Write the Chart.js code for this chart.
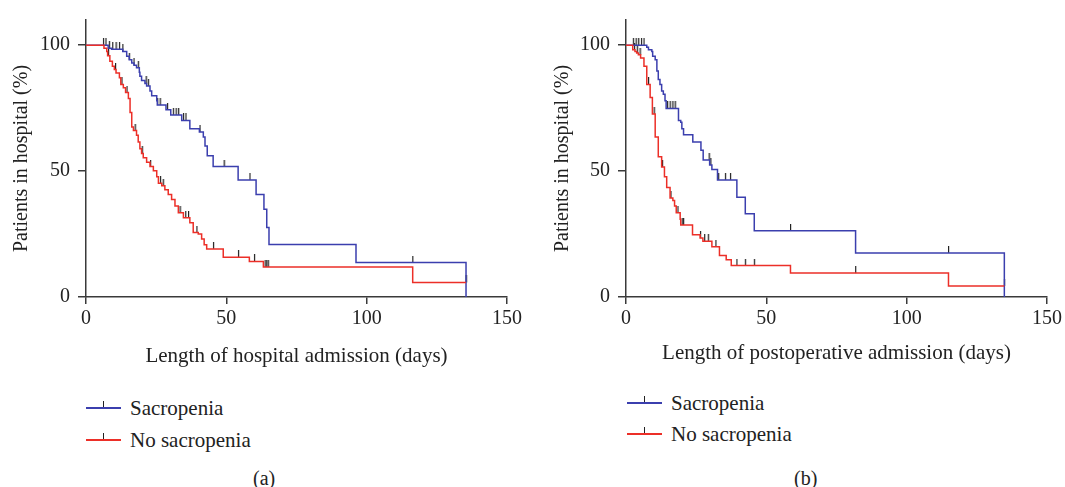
<!DOCTYPE html>
<html>
<head>
<meta charset="utf-8">
<script src="https://cdn.jsdelivr.net/npm/chart.js@4.4.1/dist/chart.umd.min.js"></script>
<style>
  body { margin: 0; background: #fff; width: 1065px; height: 487px; position: relative; overflow: hidden;
         font-family: 'Liberation Serif', 'DejaVu Serif', serif; color: #222; }
  .panel { position: absolute; top: 0; }
  .lg { position: absolute; font-size: 21px; line-height: 24px; white-space: nowrap; }
  .lg i { position: absolute; left: -44px; top: 11px; width: 35px; height: 2px; }
  .lg i:after { content: ''; position: absolute; left: 17px; top: -6px; width: 1px; height: 6px; background: #222; }
  .cap { position: absolute; font-size: 20px; line-height: 24px; }
</style>
</head>
<body>
<div class="panel" style="left:0;width:530px;height:369px"><canvas id="chartA"></canvas></div>
<div class="panel" style="left:530px;width:535px;height:366px"><canvas id="chartB"></canvas></div>

<div class="lg" style="left:130px;top:396px"><i style="background:#3b3fae"></i>Sacropenia</div>
<div class="lg" style="left:130px;top:428px"><i style="background:#ec2f28"></i>No sacropenia</div>
<div class="cap" style="left:253px;top:466px">(a)</div>

<div class="lg" style="left:671px;top:391px"><i style="background:#3b3fae"></i>Sacropenia</div>
<div class="lg" style="left:671px;top:422px"><i style="background:#ec2f28"></i>No sacropenia</div>
<div class="cap" style="left:794px;top:466px">(b)</div>

<script>
const blue = '#3b3fae';
const red = '#ec2f28';
const xTicks = [0, 50, 100, 150];
const yTicks = [0, 50, 100];

// (a) length of hospital admission
const hospSarcTime = [0, 7.9, 9.1, 13.1, 14.5, 15.4, 16.3, 17.1, 18.0, 19.0, 19.2, 19.8, 21.0, 21.6, 22.8, 23.4, 25.2, 25.4,
  28.5, 30.2, 34.1, 37.0, 40.4, 41.8, 42.4, 43.2, 45.3, 54.2, 60.6, 63.4, 64.4, 65.2, 96.2, 135.4];
const hospSarcPct = [100, 98.8, 98.4, 97.5, 95.6, 94.2, 92.9, 92.0, 91.0, 89.3, 87.7, 86.0, 84.8, 83.8, 81.8, 79.9, 77.9, 76.2,
  74.4, 72.3, 70.1, 66.8, 65.5, 63.5, 60.0, 56.1, 51.8, 46.5, 40.7, 34.8, 27.6, 20.8, 13.7, 0];
const hospSarcCens = [6.2, 7.1, 8.3, 9.5, 10.7, 11.9, 13.1, 15.4, 17.1, 18.6, 21.4, 22.2, 25.5, 26.4, 29.0, 31.1, 32.1, 33.0,
  34.7, 35.6, 40.6, 49.2, 58.4, 116.4];

const hospNoTime = [0, 6.4, 7.4, 7.7, 8.5, 9.4, 10.1, 10.7, 11.9, 12.4, 13.3, 14.1, 15.1, 15.7, 16.3, 16.9, 18.0, 18.6, 19.2,
  19.8, 20.4, 21.6, 22.8, 24.0, 25.2, 25.8, 27.0, 28.1, 29.3, 30.5, 31.7, 32.9, 34.7, 37.0, 38.2, 40.0, 41.2, 42.1, 43.0,
  48.9, 58.2, 63.2, 116.4];
const hospNoPct = [100, 98.8, 97.5, 95.8, 93.6, 91.6, 90.3, 89.0, 87.1, 84.4, 83.1, 81.2, 78.8, 73.3, 67.5, 66.1, 64.2, 61.6, 58.9,
  57.0, 55.3, 53.5, 51.8, 50.1, 47.8, 45.2, 44.2, 42.6, 40.7, 38.7, 36.1, 33.5, 31.5, 29.5, 25.6, 25.0, 23.0, 20.7, 19.1,
  15.8, 14.1, 11.9, 5.8];
const hospNoCens = [8.0, 10.5, 12.8, 14.6, 17.5, 20.0, 23.0, 26.5, 27.5, 33.5, 35.5, 36.5, 39.5, 45.4, 54.3, 60.0,
  63.8, 64.4, 64.9, 135.4];

// (b) length of postoperative admission
const postSarcTime = [0, 7.4, 8.0, 9.2, 9.5, 10.4, 11.0, 11.5, 12.1, 12.7, 13.3, 13.9, 14.3, 18.7, 19.5, 19.9, 20.5, 23.8,
  26.7, 27.5, 29.8, 30.6, 32.6, 39.5, 42.5, 45.7, 81.8, 134.8];
const postSarcPct = [100, 99.2, 98.2, 97.5, 95.6, 94.2, 89.7, 86.4, 84.4, 81.8, 80.5, 77.9, 74.9, 70.1, 69.4, 66.8, 64.4, 61.6,
  58.3, 54.4, 52.4, 50.6, 46.5, 39.6, 33.1, 26.3, 17.5, 0];
const postSarcCens = [2.6, 3.6, 4.5, 5.5, 6.4, 14.8, 15.7, 16.7, 17.5, 29.6, 30.2, 33.0, 35.4, 37.2, 58.6, 114.9];

const postNoTime = [0, 2.4, 3.2, 3.8, 4.4, 5.2, 6.4, 7.4, 8.6, 9.4, 10.4, 11.5, 12.7, 13.7, 14.5, 15.7, 16.7, 17.3, 17.9,
  19.3, 19.5, 23.7, 26.4, 27.4, 30.6, 33.3, 35.7, 37.5, 58.6, 114.9];
const postNoPct = [100, 98.2, 97.5, 96.9, 96.2, 94.9, 91.6, 84.4, 79.2, 72.7, 63.5, 55.7, 51.6, 47.8, 43.5, 39.3, 38.3, 36.1, 33.5,
  30.9, 28.6, 24.7, 23.4, 22.1, 20.0, 16.5, 14.8, 12.5, 9.5, 4.4];
const postNoCens = [3.0, 4.0, 5.0, 8.0, 10.0, 13.0, 16.0, 18.5, 20.0, 20.5, 26.5, 28.0, 29.3, 32.0, 39.5, 42.5, 45.7,
  81.8, 134.8];

const serif = "'Liberation Serif', 'DejaVu Serif', serif";
const ink = '#222';
const axisCol = '#3a3a3a';

// little upward censor tick used as point style
const censMark = document.createElement('canvas');
censMark.width = 3;
censMark.height = 14;
const g = censMark.getContext('2d');
g.fillStyle = ink;
g.fillRect(1, 0, 1.2, 7);

function kmPoints(time, pct, cens) {
  const pts = time.map((t, i) => ({ x: t, y: pct[i] }));
  const end = Math.max(time[time.length - 1], ...cens);
  if (end > time[time.length - 1]) pts.push({ x: end, y: pct[pct.length - 1] });
  return pts;
}

function pctAt(time, pct, t) {
  let v = pct[0];
  for (let i = 0; i < time.length; i++) {
    if (time[i] <= t) v = pct[i];
  }
  return v;
}

function curve(time, pct, cens, color) {
  return {
    data: kmPoints(time, pct, cens),
    borderColor: color,
    borderWidth: 1.5,
    stepped: true,
    pointRadius: 0,
    fill: false
  };
}

function censors(time, pct, cens) {
  return {
    data: cens.map(t => ({ x: t, y: pctAt(time, pct, t) })),
    showLine: false,
    pointStyle: censMark,
    pointRadius: 4
  };
}

function makeChart(id, xTitle, sarc, noSarc, box) {
  const ctx = document.getElementById(id).getContext('2d');
  return new Chart(ctx, {
    type: 'line',
    data: {
      datasets: [
        curve(noSarc[0], noSarc[1], noSarc[2], red),
        curve(sarc[0], sarc[1], sarc[2], blue),
        censors(noSarc[0], noSarc[1], noSarc[2]),
        censors(sarc[0], sarc[1], sarc[2])
      ]
    },
    options: {
      responsive: true,
      maintainAspectRatio: false,
      animation: false,
      events: [],
      layout: { autoPadding: false, padding: { top: 15, right: box.right, left: 0, bottom: 0 } },
      plugins: { legend: { display: false }, tooltip: { enabled: false } },
      scales: {
        x: {
          type: 'linear',
          min: 0,
          max: 150,
          afterBuildTicks: s => { s.ticks = xTicks.map(v => ({ value: v })); },
          afterFit: s => { s.height = box.xh; },
          ticks: { font: { family: serif, size: 20 }, color: ink, padding: 3, maxRotation: 0 },
          grid: { display: true, drawOnChartArea: false, drawTicks: true, tickLength: 7, color: axisCol, lineWidth: 1.5 },
          border: { display: true, color: axisCol, width: 1.5 },
          title: { display: true, text: xTitle, font: { family: serif, size: 21 }, color: ink, padding: { top: 0, bottom: 0 } }
        },
        y: {
          min: 0,
          max: 110,
          afterBuildTicks: s => { s.ticks = yTicks.map(v => ({ value: v })); },
          afterFit: s => { s.width = box.yw; },
          ticks: { font: { family: serif, size: 20 }, color: ink, padding: 8 },
          grid: { display: true, drawOnChartArea: false, drawTicks: true, tickLength: 8, color: axisCol, lineWidth: 1.5 },
          border: { display: true, color: axisCol, width: 1.5 },
          title: { display: true, text: 'Patients in hospital (%)', font: { family: serif, size: 20 }, color: ink,
                   padding: { top: box.ytp, bottom: 0 } }
        }
      }
    }
  });
}

makeChart('chartA', 'Length of hospital admission (days)',
  [hospSarcTime, hospSarcPct, hospSarcCens], [hospNoTime, hospNoPct, hospNoCens],
  { right: 23, xh: 72, yw: 86, ytp: 10 });

makeChart('chartB', 'Length of postoperative admission (days)',
  [postSarcTime, postSarcPct, postSarcCens], [postNoTime, postNoPct, postNoCens],
  { right: 18, xh: 69, yw: 96, ytp: 21 });
</script>
</body>
</html>
